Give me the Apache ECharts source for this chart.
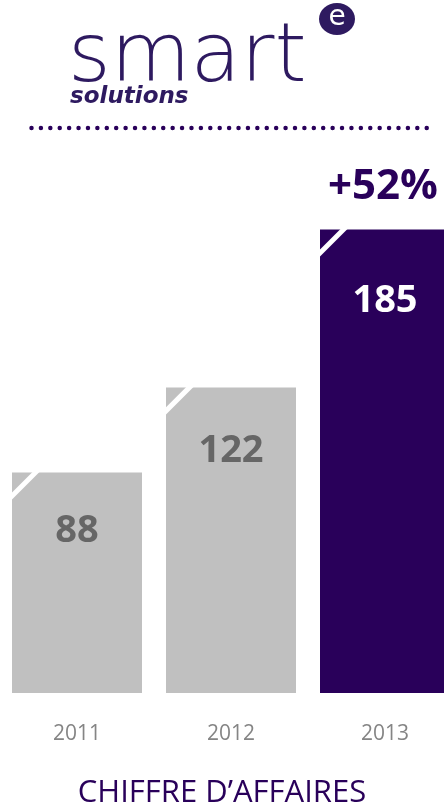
<!DOCTYPE html>
<html>
<head>
<meta charset="utf-8">
<script src="https://cdn.jsdelivr.net/npm/echarts@6/dist/echarts.min.js"></script>
<style>
html,body{margin:0;padding:0;background:#fff;}
#main{width:444px;height:808px;}
</style>
</head>
<body>
<div id="main"></div>
<script>
// ---- data ----
const categories = ['2011', '2012', '2013'];
const revenue = [88, 122, 185];
const chartTitle = 'CHIFFRE D\u2019AFFAIRES';
const logoWord = 'smart';
const logoSub = 'solutions';

// ---- styles ----
const PURPLE = '#29005a';
const LOGO = '#2e1a60';
const GRAY = '#c0c0c0';
const barColors = [GRAY, GRAY, PURPLE];
const labelColors = ['#666666', '#666666', '#ffffff'];
const labelDistances = [40, 44.5, 52.5];

const last = revenue.length - 1;
const growth = Math.round((revenue[last] - revenue[last - 1]) / revenue[last - 1] * 100);
const growthText = (growth >= 0 ? '+' : '') + growth + '%';

const chart = echarts.init(document.getElementById('main'), null, {renderer: 'canvas'});

const option = {
  animation: false,
  backgroundColor: '#ffffff',
  grid: {left: 0, width: 462, top: 192, bottom: 115, containLabel: false, outerBoundsMode: 'none'},
  xAxis: {
    type: 'category',
    data: categories,
    axisLine: {show: false},
    axisTick: {show: false},
    axisLabel: {
      margin: 31,
      color: '#858585',
      fontFamily: 'Open Sans',
      fontSize: 21
    }
  },
  yAxis: {
    type: 'value',
    min: 0,
    max: 200,
    show: false,
    splitLine: {show: false}
  },
  series: [
    {
      type: 'bar',
      barWidth: 130,
      data: revenue.map((v, i) => ({
        value: v,
        itemStyle: {color: barColors[i]},
        label: {color: labelColors[i], distance: labelDistances[i]}
      })),
      label: {
        show: true,
        position: 'insideTop',
        fontFamily: 'Open Sans',
        fontWeight: 'bold',
        fontSize: 38
      },
      z: 2
    },
    {
      type: 'custom',
      data: revenue.map((v, i) => [i, v]),
      z: 3,
      silent: true,
      renderItem: function (params, api) {
        const idx = api.value(0);
        const top = api.coord([idx, api.value(1)]);
        const w = 130;
        const left = top[0] - w / 2;
        const y = top[1];
        const children = [{
          type: 'line',
          shape: {x1: left - 4, y1: y + 23.5 + 4, x2: left + 23.5 + 4, y2: y - 4},
          style: {stroke: '#ffffff', lineWidth: 5}
        }];
        if (params.dataIndex === last) {
          children.push({
            type: 'text',
            x: top[0] - 2,
            y: y - 43,
            style: {
              text: growthText,
              fill: PURPLE,
              font: 'bold 42px "Open Sans"',
              align: 'center',
              verticalAlign: 'middle'
            }
          });
        }
        return {type: 'group', children: children};
      }
    }
  ],
  graphic: [
    {
      type: 'text',
      left: 'center',
      top: 778,
      style: {
        text: chartTitle,
        fill: PURPLE,
        font: '31px "Open Sans"'
      }
    },
    {
      type: 'text',
      x: 68,
      y: 19,
      style: {
        text: logoWord,
        fill: LOGO,
        font: '200 82px "DejaVu Sans"',
        verticalAlign: 'top'
      }
    },
    {
      type: 'text',
      x: 70,
      y: 86,
      style: {
        text: logoSub,
        fill: LOGO,
        font: 'italic bold 23px "DejaVu Sans"',
        verticalAlign: 'top'
      }
    },
    {
      type: 'ellipse',
      shape: {cx: 337, cy: 19, rx: 18, ry: 16},
      style: {fill: LOGO}
    },
    {
      type: 'text',
      x: 337,
      y: 18,
      style: {
        text: 'e',
        fill: '#ffffff',
        font: '28px "DejaVu Sans"',
        align: 'center',
        verticalAlign: 'middle'
      }
    },
    {
      type: 'line',
      shape: {x1: 31.5, y1: 128, x2: 436, y2: 128},
      style: {stroke: PURPLE, lineWidth: 4.5, lineDash: [0, 9.41], lineCap: 'round'}
    }
  ]
};

chart.setOption(option);
</script>
</body>
</html>
